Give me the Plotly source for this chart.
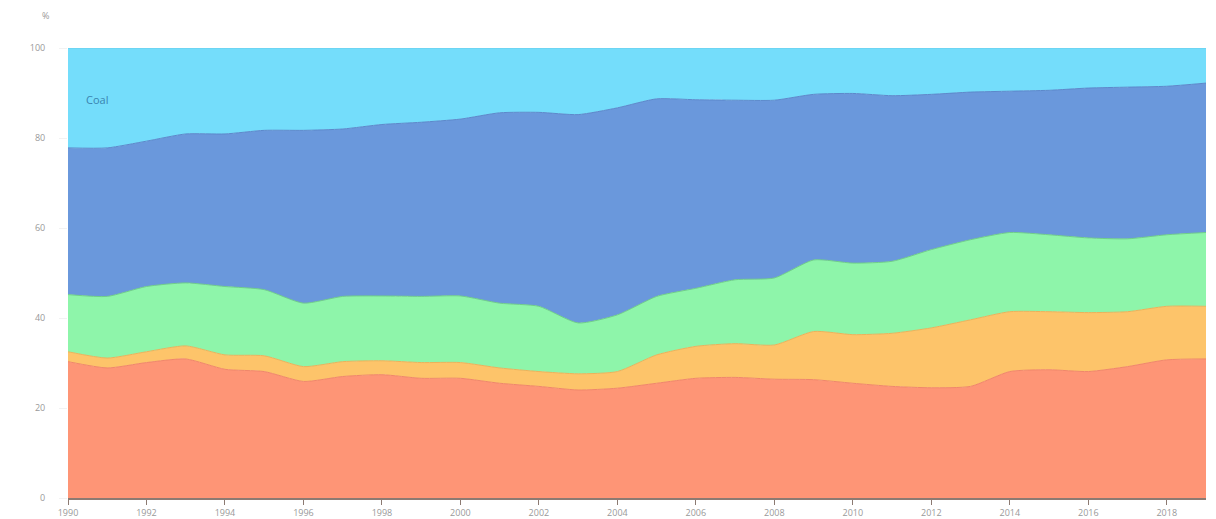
import plotly.graph_objects as go

years = list(range(1990, 2020))

# Shares (%) of each layer, bottom to top
layer1 = [30.3, 28.9, 30.1, 30.9, 28.6, 28.1, 25.9, 27.0, 27.4, 26.6, 26.6, 25.5, 24.8, 24.0, 24.4,
          25.5, 26.6, 26.8, 26.4, 26.3, 25.5, 24.8, 24.5, 24.8, 28.1, 28.5, 28.1, 29.2, 30.7, 30.9]
layer2 = [2.2, 2.2, 2.4, 2.9, 3.2, 3.5, 3.3, 3.3, 3.1, 3.5, 3.5, 3.4, 3.3, 3.6, 3.7,
          6.3, 7.1, 7.5, 7.6, 10.7, 10.8, 11.8, 13.3, 14.8, 13.3, 12.9, 13.1, 12.2, 11.9, 11.7]
layer3 = [12.7, 13.7, 14.5, 14.0, 15.2, 14.7, 14.1, 14.5, 14.4, 14.7, 14.8, 14.4, 14.5, 11.3, 12.6,
          13.0, 12.9, 14.2, 14.9, 15.9, 15.9, 16.0, 17.4, 17.8, 17.6, 17.1, 16.6, 16.2, 15.9, 16.4]
layer4 = [32.6, 33.0, 32.3, 33.1, 33.9, 35.4, 38.4, 37.2, 38.1, 38.7, 39.3, 42.3, 43.1, 46.3, 46.0,
          43.9, 41.9, 39.9, 39.5, 36.8, 37.7, 36.8, 34.5, 32.8, 31.4, 32.1, 33.3, 33.7, 33.0, 33.2]
coal = [22.2, 22.2, 20.7, 19.1, 19.1, 18.3, 18.3, 18.0, 17.0, 16.5, 15.8, 14.4, 14.3, 14.8, 13.3,
        11.3, 11.5, 11.6, 11.6, 10.3, 10.1, 10.6, 10.3, 9.8, 9.6, 9.4, 8.9, 8.7, 8.5, 7.8]

series = [
    ("Oil", layer1, "#FE9576", "#F0866A"),
    ("Renewables", layer2, "#FDC46A", "#EBB25A"),
    ("Nuclear", layer3, "#8EF5AA", "#6FCF88"),
    ("Natural gas", layer4, "#6A98DC", "#5C88CB"),
    ("Coal", coal, "#74DDFB", "#66CDEB"),
]

x_ticks = list(range(1990, 2020, 2))
y_ticks = [0, 20, 40, 60, 80, 100]

fig = go.Figure()
for name, vals, fill, line in series:
    fig.add_trace(go.Scatter(
        x=years, y=vals, name=name, mode="lines",
        stackgroup="one",
        line=dict(color=line, width=1, shape="spline", smoothing=0.6),
        fillcolor=fill,
    ))

fig.add_annotation(x=1990.4, y=88.5, text="Coal", showarrow=False, xanchor="left",
                   font=dict(family="Open Sans", size=11, color="#3A84B0"))
fig.add_annotation(x=-0.02, y=1.073, xref="paper", yref="paper", text="%", showarrow=False,
                   xanchor="center", yanchor="middle",
                   font=dict(family="Open Sans", size=9, color="#999999"))

fig.update_layout(
    width=1208, height=511,
    margin=dict(l=60, r=10, t=40, b=21, autoexpand=False),
    paper_bgcolor="white", plot_bgcolor="white",
    showlegend=False,
    font=dict(family="Open Sans", size=9, color="#999999"),
)
fig.update_xaxes(
    range=[1990, 2019], tickvals=x_ticks, ticktext=[str(t) for t in x_ticks],
    showgrid=False, zeroline=False, automargin=False,
    showline=True, linecolor="#8C7A72", linewidth=1.5,
    ticks="outside", ticklen=5, tickcolor="#8C7A72", tickwidth=1,
    tickfont=dict(size=9, color="#999999"),
)
fig.update_yaxes(
    range=[0, 100], tickvals=y_ticks, ticktext=[str(t) for t in y_ticks],
    showgrid=False, zeroline=False, showline=False, automargin=False,
    ticks="outside", ticklen=8, tickcolor="#F2F2F2", tickwidth=1,
    ticklabelstandoff=12,
    tickfont=dict(size=9, color="#999999"),
)

fig.write_html("out.html")
